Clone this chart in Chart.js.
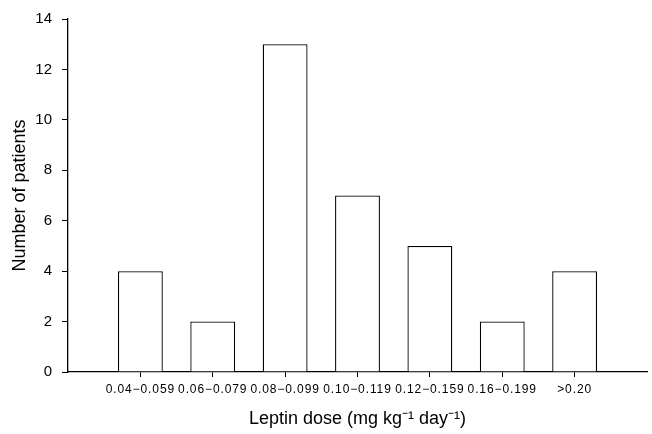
<!DOCTYPE html>
<html>
<head>
<meta charset="utf-8">
<script src="https://cdn.jsdelivr.net/npm/chart.js@4"></script>
<style>
  html, body { margin: 0; padding: 0; background: #fff; }
  #wrap { width: 652px; height: 434px; }
</style>
</head>
<body>
<div id="wrap"><canvas id="chart"></canvas></div>
<script>
const doseRanges = ['0.04\u22120.059', '0.06\u22120.079', '0.08\u22120.099', '0.10\u22120.119', '0.12\u22120.159', '0.16\u22120.199', '>0.20'];
const patientCounts = [4, 2, 13, 7, 5, 2, 4];
const yTicks = [0, 2, 4, 6, 8, 10, 12, 14];

// empty slot at each end so the bars sit one category in from the axes
const labels = [''].concat(doseRanges, ['']);
const values = [null].concat(patientCounts, [null]);

// spread the small x tick labels a little, like the original figure
const spacedLabels = {
  id: 'spacedLabels',
  beforeDraw(chart) {
    const scale = chart.scales.x;
    if (scale._spaced) return;
    const orig = scale.drawLabels;
    scale.drawLabels = function (area) {
      const ctx = this.ctx;
      ctx.save();
      ctx.letterSpacing = '0.9px';
      orig.call(this, area);
      ctx.restore();
    };
    scale._spaced = true;
  }
};

const ctx = document.getElementById('chart').getContext('2d');
const chart = new Chart(ctx, {
  type: 'bar',
  data: {
    labels: labels,
    datasets: [{
      data: values,
      backgroundColor: '#ffffff',
      borderColor: '#000000',
      borderWidth: 1.3,
      barPercentage: 0.62,
      categoryPercentage: 1
    }]
  },
  options: {
    responsive: true,
    maintainAspectRatio: false,
    animation: false,
    layout: { padding: { top: 18, right: 2, left: 0, bottom: 0 } },
    plugins: {
      legend: { display: false },
      tooltip: { enabled: false }
    },
    scales: {
      x: {
        offset: false,
        grid: {
          offset: false,
          drawOnChartArea: false,
          tickLength: 5,
          tickColor: c => (c.index === 0 || c.index === labels.length - 1) ? 'rgba(0,0,0,0)' : '#000'
        },
        border: { color: '#000', width: 1.3 },
        ticks: {
          color: '#000',
          font: { family: 'Liberation Sans, Arial', size: 12 },
          maxRotation: 0,
          autoSkip: false,
          padding: 5
        },
        title: {
          display: true,
          text: 'Leptin dose (mg kg\u207B\u00B9 day\u207B\u00B9)',
          color: '#000',
          font: { family: 'Liberation Sans, Arial', size: 18 },
          padding: { top: 0, bottom: 4 }
        },
        afterFit: s => { s.height = 62; }
      },
      y: {
        min: 0,
        max: 14,
        afterBuildTicks: s => { s.ticks = yTicks.map(v => ({ value: v })); },
        grid: { drawOnChartArea: false, tickLength: 6, tickColor: '#000' },
        border: { color: '#000', width: 1.3 },
        ticks: {
          color: '#000',
          font: { family: 'Liberation Sans, Arial', size: 15 },
          padding: 10
        },
        title: {
          display: true,
          text: 'Number of patients',
          color: '#000',
          font: { family: 'Liberation Sans, Arial', size: 18 },
          padding: { top: 9, bottom: 0 }
        },
        afterFit: s => { s.width = 68; }
      }
    }
  },
  plugins: [spacedLabels]
});
</script>
</body>
</html>
